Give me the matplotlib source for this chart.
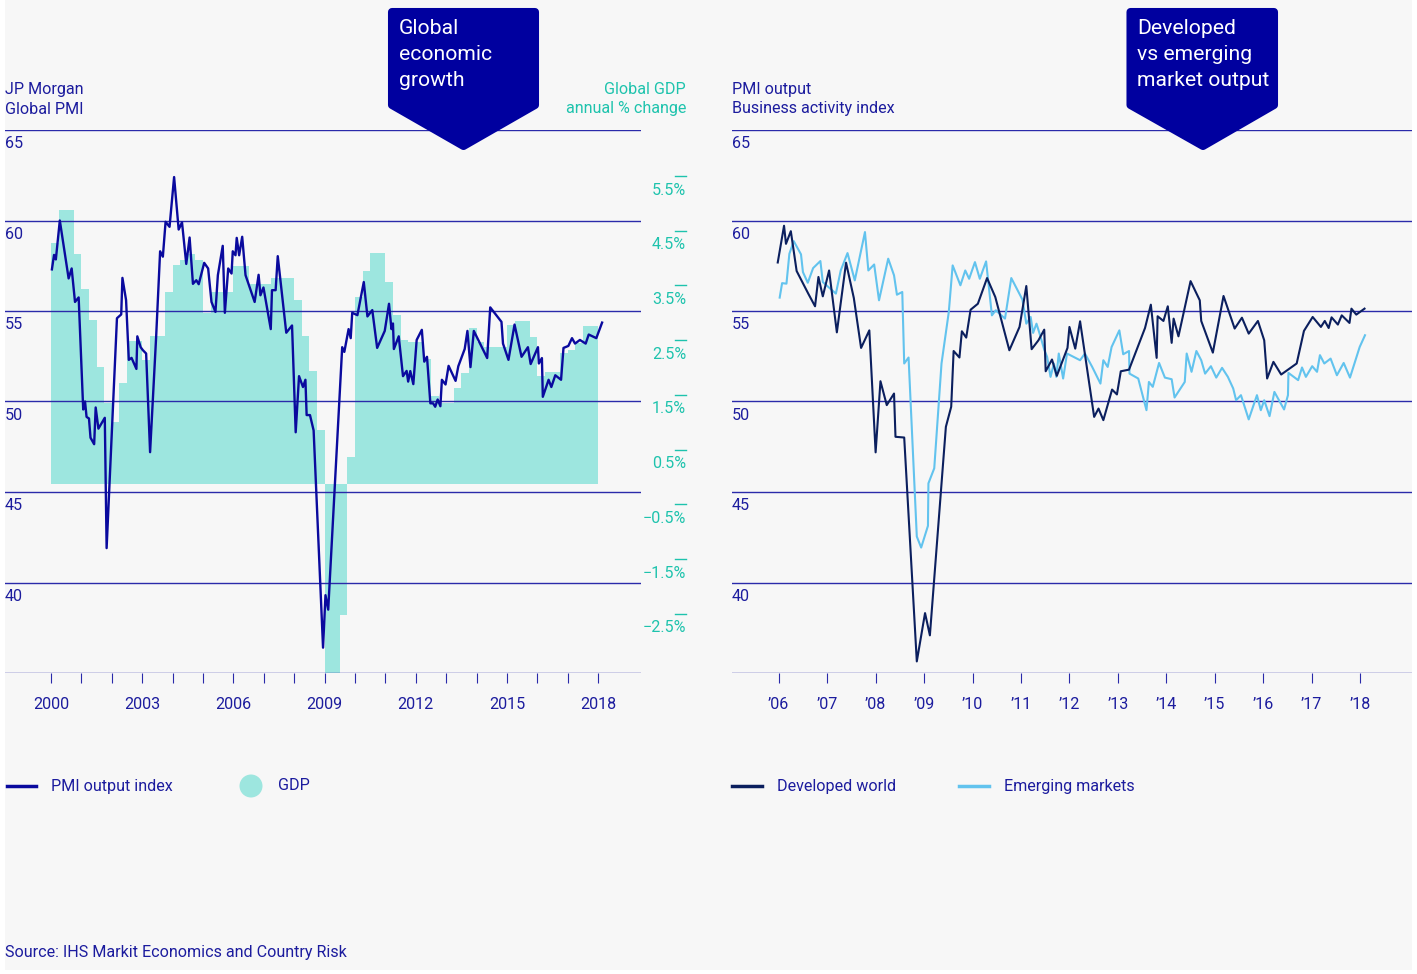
import matplotlib
matplotlib.use("Agg")
import matplotlib.pyplot as plt
from matplotlib import transforms
from matplotlib.lines import Line2D
from matplotlib.patches import Polygon, Rectangle, Ellipse
import numpy as np

plt.rcParams['font.family'] = ['Roboto', 'DejaVu Sans']

W, H = 1417, 974

BG = '#f7f7f7'
INK = '#1c1c9e'
GRID = '#2a2aaa'
BOX = '#00009f'
PMI_C = '#0a0a9e'
GDP_C = '#9de6df'
TEAL = '#1ec3ad'
DEV_C = '#0b1f5e'
EM_C = '#62c3ee'
FS = 11.6

# --- left chart: JP Morgan global PMI (output index) ---
pmi_dates = [2000.03, 2000.10, 2000.16, 2000.29, 2000.58, 2000.68, 2000.79, 2000.91, 2001.06, 2001.12,
             2001.17, 2001.25, 2001.30, 2001.42, 2001.47, 2001.56, 2001.77, 2001.83, 2002.17, 2002.31,
             2002.35, 2002.47, 2002.56, 2002.65, 2002.81, 2002.84, 2002.95, 2003.02, 2003.13, 2003.26,
             2003.46, 2003.59, 2003.68, 2003.77, 2003.90, 2004.05, 2004.20, 2004.31, 2004.45, 2004.56,
             2004.67, 2004.78, 2004.86, 2005.04, 2005.17, 2005.28, 2005.41, 2005.49, 2005.65, 2005.72,
             2005.83, 2005.94, 2005.98, 2006.07, 2006.11, 2006.19, 2006.29, 2006.40, 2006.70, 2006.83,
             2006.89, 2006.99, 2007.23, 2007.27, 2007.39, 2007.46, 2007.74, 2007.93, 2008.05, 2008.16,
             2008.29, 2008.37, 2008.41, 2008.52, 2008.64, 2008.95, 2009.03, 2009.12, 2009.58, 2009.65,
             2009.79, 2009.86, 2009.91, 2010.08, 2010.29, 2010.41, 2010.57, 2010.73, 2010.98, 2011.12,
             2011.20, 2011.25, 2011.28, 2011.44, 2011.58, 2011.70, 2011.75, 2011.82, 2011.92, 2012.03,
             2012.20, 2012.28, 2012.37, 2012.48, 2012.57, 2012.64, 2012.72, 2012.81, 2012.86, 2012.98,
             2013.08, 2013.31, 2013.40, 2013.61, 2013.70, 2013.80, 2013.91, 2014.35, 2014.45, 2014.82,
             2014.87, 2015.05, 2015.25, 2015.48, 2015.69, 2015.78, 2016.02, 2016.05, 2016.15, 2016.18,
             2016.37, 2016.46, 2016.59, 2016.78, 2016.86, 2017.02, 2017.14, 2017.24, 2017.40, 2017.59,
             2017.69, 2017.94, 2018.13]
pmi_values = [57.3, 58.1, 57.85, 60.0, 56.8, 57.35, 55.5, 55.75, 49.56, 50.0,
              49.15, 49.06, 48.0, 47.64, 49.67, 48.5, 49.1, 41.9, 54.6, 54.81,
              56.83, 55.6, 52.3, 52.41, 51.8, 53.6, 53.0, 52.84, 52.65, 47.2,
              53.6, 58.3, 58.0, 59.93, 59.65, 62.4, 59.5, 59.9, 57.6, 59.06,
              56.5, 56.7, 56.48, 57.66, 57.35, 55.5, 54.95, 56.98, 58.6, 54.9,
              57.35, 57.07, 58.3, 58.08, 59.04, 58.08, 59.1, 56.98, 55.5, 57.0,
              55.87, 56.3, 54.0, 56.15, 56.15, 58.03, 53.8, 54.2, 48.3, 51.4,
              50.8, 51.2, 49.25, 49.25, 48.4, 36.4, 39.3, 38.5, 53.0, 52.74,
              54.0, 53.5, 54.9, 54.77, 56.6, 54.7, 55.05, 52.96, 53.9, 55.4,
              54.0, 54.31, 52.9, 53.6, 51.4, 51.69, 51.1, 51.68, 50.96, 53.4,
              53.96, 52.2, 52.47, 49.9, 49.9, 49.71, 50.11, 49.74, 51.2, 50.94,
              51.97, 51.14, 51.95, 52.9, 53.9, 51.9, 53.9, 52.4, 55.2, 54.4,
              53.2, 52.3, 54.25, 52.47, 53.0, 52.07, 53.0, 52.1, 52.4, 50.26,
              51.2, 50.8, 51.45, 51.2, 52.96, 53.07, 53.5, 53.2, 53.4, 53.2,
              53.7, 53.5, 54.36]

# global GDP, annual % change, quarterly from 2000 Q1 to 2017 Q4
gdp_start = 2000
gdp_values = [4.4, 5.0, 5.0, 4.2, 3.57, 3.0, 2.13, 1.48,
              1.13, 1.84, 2.62, 2.62, 2.26, 2.7, 2.7, 3.5,
              4.0, 4.1, 4.2, 4.1, 3.13, 3.5, 3.5, 3.5,
              3.98, 3.98, 3.66, 3.66, 3.66, 3.77, 3.77, 3.77,
              3.37, 2.7, 2.07, 0.98, -3.5, -3.5, -2.4, 0.5,
              3.42, 3.89, 4.23, 4.23, 3.7, 3.09, 2.63, 2.6,
              2.6, 2.28, 1.6, 1.48, 1.48, 1.75, 2.03, 2.85,
              2.6, 2.5, 2.5, 2.5, 2.9, 2.97, 2.97, 2.69,
              1.97, 2.05, 2.05, 2.39, 2.45, 2.58, 2.88, 2.88]
gdp_ticks = [5.5, 4.5, 3.5, 2.5, 1.5, 0.5, -0.5, -1.5, -2.5]

# --- right chart: developed vs emerging PMI output ---
dev_dates = [2005.98, 2006.11, 2006.15, 2006.25, 2006.37, 2006.61, 2006.75, 2006.82, 2006.91, 2007.04,
             2007.20, 2007.39, 2007.55, 2007.70, 2007.87, 2008.00, 2008.10, 2008.23, 2008.38, 2008.41,
             2008.59, 2008.85, 2009.02, 2009.12, 2009.45, 2009.56, 2009.61, 2009.73, 2009.78, 2009.87,
             2009.96, 2010.11, 2010.30, 2010.47, 2010.76, 2010.97, 2011.11, 2011.22, 2011.36, 2011.48,
             2011.51, 2011.64, 2011.74, 2011.96, 2012.00, 2012.12, 2012.22, 2012.51, 2012.60, 2012.70,
             2012.88, 2012.98, 2013.06, 2013.23, 2013.56, 2013.68, 2013.80, 2013.82, 2013.94, 2014.03,
             2014.11, 2014.15, 2014.25, 2014.50, 2014.69, 2014.72, 2014.96, 2015.18, 2015.41, 2015.56,
             2015.70, 2015.89, 2016.02, 2016.08, 2016.21, 2016.37, 2016.69, 2016.84, 2017.02, 2017.19,
             2017.27, 2017.35, 2017.41, 2017.54, 2017.62, 2017.78, 2017.82, 2017.92, 2018.09]
dev_values = [57.68, 59.71, 58.71, 59.41, 57.21, 55.96, 55.26, 56.88, 55.81, 57.24,
              53.82, 57.67, 55.72, 52.96, 53.93, 47.19, 51.12, 49.80, 50.44, 48.05,
              48.01, 35.64, 38.31, 37.08, 48.60, 49.71, 52.79, 52.43, 53.88, 53.53,
              55.07, 55.40, 56.82, 55.77, 52.83, 54.12, 56.38, 52.89, 53.38, 53.97,
              51.67, 52.32, 51.42, 52.96, 54.12, 52.92, 54.43, 49.15, 49.61, 48.97,
              50.66, 50.39, 51.67, 51.76, 54.06, 55.35, 52.41, 54.71, 54.45, 55.26,
              53.24, 54.58, 53.60, 56.65, 55.59, 54.45, 52.70, 55.83, 54.03, 54.63,
              53.75, 54.45, 53.38, 51.27, 52.19, 51.49, 52.10, 53.90, 54.67, 54.12,
              54.45, 54.06, 54.65, 54.25, 54.76, 54.34, 55.13, 54.80, 55.13]

em_dates = [2006.02, 2006.07, 2006.16, 2006.22, 2006.31, 2006.46, 2006.50, 2006.60, 2006.71, 2006.86,
            2006.91, 2007.18, 2007.28, 2007.42, 2007.57, 2007.78, 2007.85, 2007.97, 2008.07, 2008.26,
            2008.38, 2008.44, 2008.55, 2008.59, 2008.68, 2008.85, 2008.94, 2009.08, 2009.09, 2009.21,
            2009.36, 2009.51, 2009.59, 2009.75, 2009.85, 2009.93, 2010.05, 2010.15, 2010.28, 2010.40,
            2010.48, 2010.67, 2010.80, 2011.03, 2011.11, 2011.20, 2011.25, 2011.32, 2011.38, 2011.48,
            2011.54, 2011.61, 2011.68, 2011.73, 2011.78, 2011.87, 2011.95, 2012.22, 2012.32, 2012.47,
            2012.64, 2012.70, 2012.79, 2012.87, 2013.03, 2013.11, 2013.23, 2013.24, 2013.42, 2013.59,
            2013.64, 2013.72, 2013.85, 2013.97, 2014.11, 2014.17, 2014.38, 2014.42, 2014.52, 2014.62,
            2014.72, 2014.80, 2014.92, 2015.03, 2015.15, 2015.27, 2015.38, 2015.44, 2015.54, 2015.70,
            2015.87, 2015.95, 2016.02, 2016.13, 2016.23, 2016.43, 2016.51, 2016.52, 2016.72, 2016.80,
            2016.88, 2017.01, 2017.11, 2017.17, 2017.26, 2017.39, 2017.52, 2017.66, 2017.79, 2017.99,
            2018.10]
em_values = [55.74, 56.54, 56.51, 58.16, 58.86, 58.13, 57.15, 56.56, 57.37, 57.76,
             56.60, 55.96, 57.24, 58.20, 56.69, 59.36, 57.24, 57.57, 55.59, 57.89,
             56.97, 55.90, 56.05, 52.10, 52.43, 42.54, 41.93, 43.13, 45.48, 46.31,
             52.10, 54.94, 57.52, 56.42, 57.24, 56.78, 57.70, 56.78, 57.74, 54.76,
             55.04, 54.58, 56.82, 55.63, 54.30, 54.67, 53.79, 54.30, 53.79, 52.87,
             52.46, 51.36, 52.10, 51.36, 52.65, 51.27, 52.65, 52.28, 52.65, 51.91,
             50.99, 52.28, 51.91, 53.01, 53.93, 52.61, 52.79, 51.54, 51.27, 49.52,
             51.08, 50.81, 52.13, 51.32, 51.23, 50.22, 51.08, 52.65, 51.64, 52.79,
             52.28, 51.54, 51.95, 51.32, 51.86, 51.36, 50.72, 50.07, 50.35, 49.01,
             50.35, 49.52, 50.07, 49.19, 50.53, 49.56, 50.35, 51.58, 51.18, 51.88,
             51.36, 51.95, 51.64, 52.56, 52.10, 52.37, 51.45, 52.13, 51.32, 53.01,
             53.66]

pmi_grid = [35, 40, 45, 50, 55, 60, 65]
pmi_labels = [40, 45, 50, 55, 60, 65]
left_years = list(range(2000, 2019))
left_year_labels = [str(y) if (y - 2000) % 3 == 0 else '' for y in left_years]
right_years = list(range(2006, 2019))
right_year_labels = ['\u2019%02d' % (y % 100) for y in right_years]


def fx(px):
    return px / W


def fy(py):
    return 1 - py / H


def pix_axes(fig, x0, y0, x1, y1):
    return fig.add_axes([fx(x0), fy(y1), (x1 - x0) / W, (y1 - y0) / H])


def style_pmi(fig, ax, xlim, years, labels):
    ax.set_xlim(*xlim)
    ax.set_ylim(35, 65)
    ax.patch.set_visible(False)
    for s in ax.spines.values():
        s.set_visible(False)
    for v in pmi_grid:
        ax.axhline(v, color=GRID, lw=1.0, zorder=1)
    ax.set_yticks([])
    ax.set_xticks(years)
    ax.set_xticklabels(labels)
    ax.tick_params(axis='x', direction='out', length=7, width=0.8, color=GRID,
                   pad=10, labelsize=FS, labelcolor=INK)
    tr = transforms.offset_copy(ax.get_yaxis_transform(), fig=fig, y=-14, units='dots')
    for v in pmi_labels:
        ax.text(0, v, str(v), transform=tr, ha='left', va='center', fontsize=FS, color=INK)


def title_box(fig, x0, x1, xtip, lines, xt):
    pts = [(x0 + 4, 12), (x1 - 4, 12), (x1 - 4, 105), (xtip, 146), (x0 + 4, 105)]
    poly = Polygon([(fx(a), fy(b)) for a, b in pts], closed=True, transform=fig.transFigure,
                   facecolor=BOX, edgecolor=BOX, lw=5.8, joinstyle='round', zorder=5)
    fig.add_artist(poly)
    for i, t in enumerate(lines):
        fig.text(fx(xt), fy(28 + i * 26.5), t, color='white', fontsize=15.2,
                 ha='left', va='center', zorder=6)


def header(fig, x, lines, color, ha='left'):
    for i, t in enumerate(lines):
        fig.text(fx(x), fy(89.5 + i * 19.5), t, color=color, fontsize=FS, ha=ha, va='center')


def main():
    fig = plt.figure(figsize=(W / 100, H / 100), dpi=100)
    fig.patch.set_facecolor('white')
    fig.add_artist(Rectangle((fx(5), fy(970)), fx(1407), 970 / H, transform=fig.transFigure,
                             facecolor=BG, edgecolor='none', zorder=-10))

    # left: PMI + GDP bars
    ax = pix_axes(fig, 5, 130, 641, 673)
    ax2 = ax.twinx()
    ax.set_zorder(ax2.get_zorder() + 1)
    style_pmi(fig, ax, (1998.487, 2019.41), left_years, left_year_labels)

    quarters = gdp_start + np.arange(len(gdp_values)) * 0.25
    ax2.bar(quarters, gdp_values, width=0.25, align='edge', color=GDP_C, linewidth=0)
    ax2.set_ylim(-3.455, 6.47)
    ax2.patch.set_visible(False)
    for s in ax2.spines.values():
        s.set_visible(False)
    ax2.set_yticks([])
    tr_lab = transforms.offset_copy(ax2.get_yaxis_transform(), fig=fig, y=-7, units='dots')
    tr_dash = transforms.offset_copy(ax2.get_yaxis_transform(), fig=fig, y=7, units='dots')
    for v in gdp_ticks:
        ax2.text(1.0708, v, ('%.1f%%' % v).replace('-', '\u2212'), transform=tr_lab,
                 ha='right', va='center', fontsize=FS, color=TEAL, clip_on=False)
        ax2.plot([1.0535, 1.0708], [v, v], transform=tr_dash, color=TEAL, lw=1.0, clip_on=False)

    ax.plot(pmi_dates, pmi_values, color=PMI_C, lw=1.7, zorder=3, solid_joinstyle='round')

    # right: developed vs emerging
    axr = pix_axes(fig, 732, 130, 1412, 673)
    style_pmi(fig, axr, (2005.036, 2019.07), right_years, right_year_labels)
    axr.plot(em_dates, em_values, color=EM_C, lw=1.5, zorder=3)
    axr.plot(dev_dates, dev_values, color=DEV_C, lw=1.5, zorder=4)

    # headers and title boxes
    header(fig, 5, ['JP Morgan', 'Global PMI'], INK)
    header(fig, 686, ['Global GDP', 'annual % change'], TEAL, ha='right')
    header(fig, 732, ['PMI output', 'Business activity index'], INK)
    title_box(fig, 388, 539, 463.5, ['Global', 'economic', 'growth'], 399)
    title_box(fig, 1126.5, 1278, 1203, ['Developed', 'vs emerging', 'market output'], 1137)

    # legends
    ly = fy(786)
    fig.add_artist(Line2D([fx(7), fx(36)], [ly, ly], transform=fig.transFigure, color=PMI_C, lw=2.5))
    fig.text(fx(51), ly, 'PMI output index', color=INK, fontsize=FS, va='center')
    fig.add_artist(Ellipse((fx(251), ly), 23 / W, 23 / H, transform=fig.transFigure,
                           facecolor=GDP_C, edgecolor='none'))
    fig.text(fx(278), ly, 'GDP', color=INK, fontsize=FS, va='center')
    fig.add_artist(Line2D([fx(732), fx(762)], [ly, ly], transform=fig.transFigure, color=DEV_C, lw=2.5))
    fig.text(fx(777), ly, 'Developed world', color=INK, fontsize=FS, va='center')
    fig.add_artist(Line2D([fx(959), fx(989)], [ly, ly], transform=fig.transFigure, color=EM_C, lw=2.5))
    fig.text(fx(1004), ly, 'Emerging markets', color=INK, fontsize=FS, va='center')

    fig.text(fx(5), fy(952), 'Source: IHS Markit Economics and Country Risk', color=INK,
             fontsize=FS, va='center')

    fig.savefig('out.png', dpi=100, facecolor=fig.get_facecolor())


if __name__ == "__main__":
    main()
